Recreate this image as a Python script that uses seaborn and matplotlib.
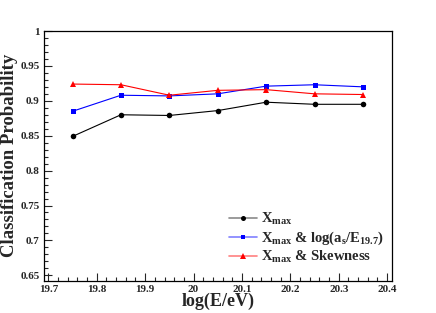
import matplotlib
matplotlib.use("Agg")
import matplotlib.pyplot as plt
import seaborn as sns
import pandas as pd
from matplotlib.ticker import MultipleLocator, FuncFormatter
from matplotlib.lines import Line2D

energy = [19.75, 19.85, 19.95, 20.05, 20.15, 20.25, 20.35]
xmax_only = [0.849, 0.880, 0.879, 0.886, 0.898, 0.895, 0.895]
xmax_as = [0.885, 0.908, 0.907, 0.910, 0.921, 0.923, 0.920]
xmax_skew = [0.924, 0.923, 0.908, 0.915, 0.916, 0.910, 0.909]
labels = [r"X$_{\mathrm{max}}$",
          r"X$_{\mathrm{max}}$ & log(a$_{\mathrm{s}}$/E$_{\mathrm{19.7}}$)",
          r"X$_{\mathrm{max}}$ & Skewness"]

sns.set_style("white")
plt.rcParams['font.family'] = ['Liberation Serif', 'DejaVu Serif']
plt.rcParams['font.weight'] = 'bold'
plt.rcParams['mathtext.fontset'] = 'custom'
plt.rcParams['mathtext.rm'] = 'Liberation Serif:bold'
plt.rcParams['mathtext.it'] = 'Liberation Serif:bold'
plt.rcParams['mathtext.bf'] = 'Liberation Serif:bold'

df = pd.concat([
    pd.DataFrame({"E": energy, "P": xmax_only, "s": labels[0]}),
    pd.DataFrame({"E": energy, "P": xmax_as, "s": labels[1]}),
    pd.DataFrame({"E": energy, "P": xmax_skew, "s": labels[2]}),
])

fig = plt.figure(figsize=(4.36, 3.13), dpi=100)
ax = fig.add_axes([44/436, 1-280.7/313, (392-44)/436, (280.7-31)/313])

colors = ["black", "blue", "red"]
light = ["#8a8a8a", "#8080ff", "#ff8080"]
markers = ["o", "s", "^"]
msizes = [4, 3.6, 4.4]
for lab, c, m, ms in zip(labels, colors, markers, msizes):
    sub = df[df["s"] == lab]
    sns.lineplot(data=sub, x="E", y="P", ax=ax, color=c, marker=m,
                 markersize=ms, markeredgewidth=0, linewidth=0.8, legend=False)

ax.set_xlim(19.691, 20.41)
ax.set_ylim(0.6423, 1.0)
ax.xaxis.set_major_locator(MultipleLocator(0.1))
ax.xaxis.set_minor_locator(MultipleLocator(0.02))
ax.yaxis.set_major_locator(MultipleLocator(0.05))
ax.yaxis.set_minor_locator(MultipleLocator(0.01))
ax.tick_params(axis='both', which='major', direction='in', length=6, width=0.8,
               labelsize=8, top=False, right=False, bottom=True, left=True)
ax.tick_params(axis='both', which='minor', direction='in', length=3, width=0.8,
               top=False, right=False, bottom=True, left=True)
ax.xaxis.set_major_formatter(FuncFormatter(lambda v, p: f"{v:g}"))
ax.yaxis.set_major_formatter(FuncFormatter(lambda v, p: f"{v:g}"))
for lbl in ax.get_xticklabels() + ax.get_yticklabels():
    lbl.set_fontweight('bold')
ax.tick_params(axis='x', pad=3)
ax.tick_params(axis='y', pad=3)
for sp in ax.spines.values():
    sp.set_color('black')
    sp.set_linewidth(0.9)

ax.set_xlabel("log(E/eV)", fontsize=13, fontweight='bold')
ax.set_ylabel("Classification Probability", fontsize=13.5, fontweight='bold')
ax.xaxis.set_label_coords(0.5, -0.047)
ax.yaxis.set_label_coords(-0.074, 0.5)

handles = [Line2D([0], [0], color=lc, linewidth=1.2, marker=m, markersize=ms * 0.9,
                  markerfacecolor=c, markeredgewidth=0)
           for lc, c, m, ms in zip(light, colors, markers, msizes)]
leg = ax.legend(handles, labels, loc='lower left', bbox_to_anchor=(0.532, 0.062),
                frameon=False, fontsize=10.5, handlelength=1.9, handletextpad=0.3,
                labelspacing=0.15, borderaxespad=0, borderpad=0)

fig.savefig("out.png", dpi=100)
